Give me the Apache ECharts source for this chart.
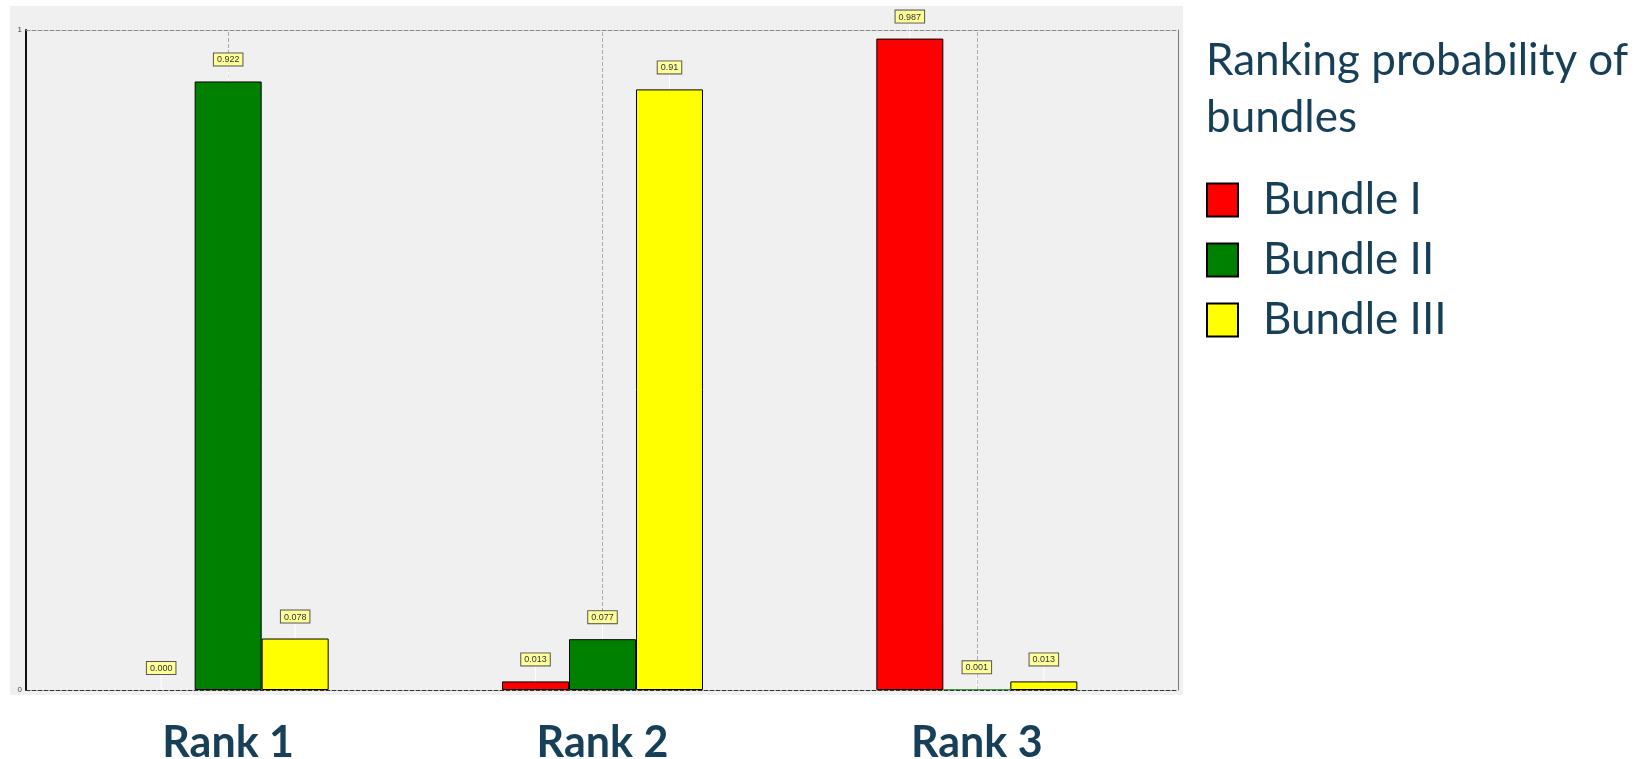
<!DOCTYPE html>
<html>
<head>
<meta charset="utf-8">
<title>Ranking probability of bundles</title>
<script src="https://cdn.jsdelivr.net/npm/echarts@6/dist/echarts.min.js"></script>
<style>
  html, body { margin: 0; padding: 0; background: #fff; }
  #chart { width: 1648px; height: 759px; }
</style>
</head>
<body>
<div id="chart"></div>
<script>
// 数据
var ranks = ['Rank 1', 'Rank 2', 'Rank 3']
var bundleNames = ['Bundle I', 'Bundle II', 'Bundle III']
var bundle1 = [0.000, 0.013, 0.987]
var bundle2 = [0.922, 0.077, 0.001]
var bundle3 = [0.078, 0.91, 0.013]
var bundle1Labels = ['0.000', '0.013', '0.987']
var bundle2Labels = ['0.922', '0.077', '0.001']
var bundle3Labels = ['0.078', '0.91', '0.013']
var yTicks = [0, 1]

var textBlue = '#173f58'
var colors = ['#ff0000', '#008000', '#ffff00']

function barSeries(name, values, labels, color, withLines) {
  var s = {
    name: name,
    type: 'bar',
    xAxisIndex: 2,
    yAxisIndex: 2,
    barWidth: 67,
    barGap: '0%',
    z: 3,
    // 极小的值不画边框（原图中看不到）
    data: values.map(function (v) {
      return v < 0.005 ? { value: v, itemStyle: { borderWidth: 0 } } : v
    }),
    itemStyle: {
      color: color,
      borderColor: '#000',
      borderWidth: 1
    },
    label: {
      show: true,
      position: 'top',
      distance: 0,
      formatter: function (p) {
        return labels[p.dataIndex]
      },
      fontSize: 9,
      fontFamily: 'Liberation Sans, Arial, sans-serif',
      color: '#333',
      backgroundColor: '#ffff99',
      borderColor: '#555',
      borderWidth: 1,
      padding: [2, 3, 1, 3]
    },
    labelLayout: {
      dy: -16
    },
    labelLine: {
      show: true,
      lineStyle: { color: '#fff', width: 1 }
    }
  }
  if (withLines) {
    // 类别中心的竖向虚线（放在中间的系列上）
    s.markLine = {
      silent: true,
      z: 1,
      symbol: 'none',
      label: { show: false },
      lineStyle: { color: '#aaa', type: 'dashed', width: 1 },
      data: ranks.map(function (r) { return { xAxis: r } })
    }
  }
  return s
}

var chart = echarts.init(document.getElementById('chart'))
chart.setOption({
  backgroundColor: '#fff',
  animation: false,
  graphic: [
    {
      type: 'rect',
      left: 10,
      top: 6,
      z: -10,
      silent: true,
      shape: { width: 1173, height: 689 },
      style: { fill: '#f0f0f0' }
    }
  ],
  title: {
    text: 'Ranking probability of\nbundles',
    left: 1206,
    top: 32,
    padding: 0,
    textStyle: {
      fontFamily: 'Lato, sans-serif',
      fontWeight: 'normal',
      fontSize: 44,
      lineHeight: 57,
      color: textBlue
    }
  },
  legend: {
    data: bundleNames,
    orient: 'vertical',
    left: 1206,
    top: 178,
    padding: 0,
    itemWidth: 31,
    itemHeight: 33,
    itemGap: 16,
    icon: 'rect',
    itemStyle: { borderColor: '#000', borderWidth: 2 },
    textStyle: {
      fontFamily: 'Lato, sans-serif',
      fontSize: 44,
      color: textBlue,
      padding: [0, 0, 0, 20]
    }
  },
  grid: [
    // 边框
    { left: 26, top: 30, width: 1152, height: 660, outerBoundsMode: 'none' },
    // 数据
    { left: 41, top: 30, width: 1123, height: 660, outerBoundsMode: 'none' }
  ],
  xAxis: [
    {
      gridIndex: 0, type: 'value', min: 0, max: 1, position: 'bottom', z: 5,
      axisLine: { show: true, onZero: false, lineStyle: { color: '#333', type: 'dashed', width: 1 } },
      axisTick: { show: false }, axisLabel: { show: false }, splitLine: { show: false }
    },
    {
      gridIndex: 0, type: 'value', min: 0, max: 1, position: 'top',
      axisLine: { show: true, onZero: false, lineStyle: { color: '#888', type: 'dashed', width: 1 } },
      axisTick: { show: false }, axisLabel: { show: false }, splitLine: { show: false }
    },
    {
      gridIndex: 1, type: 'category', data: ranks,
      axisLine: { show: false }, axisTick: { show: false }, splitLine: { show: false },
      axisLabel: {
        margin: 32,
        fontFamily: 'Lato, sans-serif',
        fontWeight: 'bold',
        fontSize: 43,
        color: textBlue
      }
    }
  ],
  yAxis: [
    {
      gridIndex: 0, type: 'value', min: 0, max: 1, interval: 1, position: 'left',
      axisLine: { show: true, onZero: false, lineStyle: { color: '#111', width: 2 } },
      axisTick: { show: false }, splitLine: { show: false },
      axisLabel: {
        margin: 4,
        fontSize: 8,
        fontFamily: 'Liberation Sans, Arial, sans-serif',
        color: '#444',
        customValues: yTicks
      }
    },
    {
      gridIndex: 0, type: 'value', min: 0, max: 1, position: 'right',
      axisLine: { show: true, onZero: false, lineStyle: { color: '#777', width: 1 } },
      axisTick: { show: false }, axisLabel: { show: false }, splitLine: { show: false }
    },
    {
      gridIndex: 1, type: 'value', min: 0, max: 1, show: false
    }
  ],
  series: [
    barSeries(bundleNames[0], bundle1, bundle1Labels, colors[0], false),
    barSeries(bundleNames[1], bundle2, bundle2Labels, colors[1], true),
    barSeries(bundleNames[2], bundle3, bundle3Labels, colors[2], false)
  ]
})
</script>
</body>
</html>
